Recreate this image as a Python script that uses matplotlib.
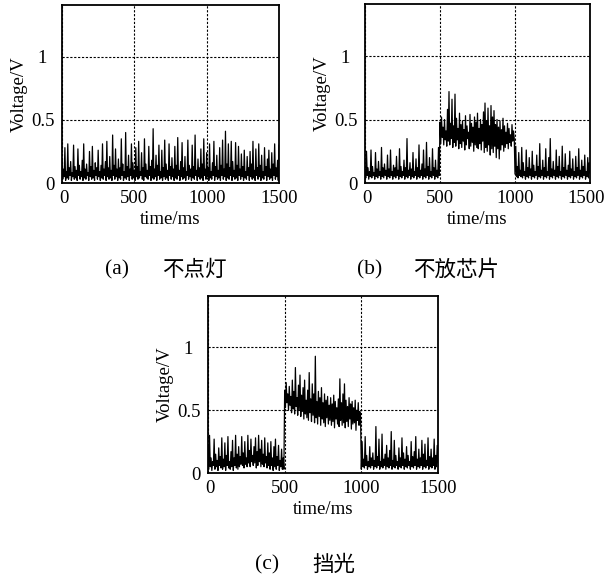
import numpy as np
import matplotlib
matplotlib.use("Agg")
import matplotlib.pyplot as plt
from matplotlib.transforms import ScaledTranslation

time_ms = np.arange(0, 1501, 5)

volt_a = [0.19,0.03,0.11,0.05,0.28,0.02,0.09,0.04,0.31,0.03,
          0.12,0.06,0.17,0.02,0.08,0.05,0.30,0.03,0.13,0.04,
          0.10,0.02,0.27,0.06,0.14,0.03,0.09,0.05,0.18,0.02,
          0.31,0.04,0.11,0.03,0.15,0.06,0.08,0.02,0.25,0.05,
          0.13,0.03,0.29,0.04,0.10,0.02,0.16,0.06,0.12,0.03,
          0.26,0.05,0.09,0.02,0.14,0.04,0.31,0.03,0.11,0.06,
          0.17,0.02,0.33,0.05,0.12,0.03,0.21,0.04,0.10,0.02,
          0.38,0.06,0.14,0.03,0.27,0.05,0.11,0.02,0.19,0.04,
          0.12,0.03,0.35,0.06,0.15,0.02,0.09,0.04,0.40,0.03,
          0.13,0.05,0.22,0.02,0.11,0.06,0.31,0.03,0.16,0.04,
          0.10,0.02,0.28,0.05,0.13,0.03,0.33,0.04,0.09,0.06,
          0.24,0.03,0.12,0.02,0.35,0.05,0.15,0.04,0.10,0.03,
          0.29,0.06,0.13,0.02,0.18,0.04,0.43,0.03,0.11,0.05,
          0.22,0.02,0.14,0.06,0.30,0.03,0.09,0.04,0.26,0.02,
          0.12,0.05,0.34,0.03,0.15,0.04,0.10,0.02,0.31,0.06,
          0.13,0.03,0.20,0.05,0.11,0.02,0.29,0.04,0.14,0.03,
          0.36,0.06,0.10,0.02,0.17,0.05,0.32,0.03,0.12,0.04,
          0.21,0.02,0.09,0.06,0.34,0.03,0.14,0.05,0.11,0.02,
          0.30,0.04,0.13,0.03,0.38,0.06,0.10,0.02,0.19,0.05,
          0.12,0.03,0.27,0.04,0.15,0.02,0.35,0.06,0.11,0.03,
          0.24,0.05,0.12,0.02,0.31,0.04,0.09,0.03,0.16,0.06,
          0.33,0.02,0.13,0.05,0.22,0.03,0.10,0.04,0.28,0.02,
          0.14,0.06,0.34,0.03,0.11,0.05,0.41,0.02,0.15,0.04,
          0.31,0.03,0.12,0.06,0.33,0.02,0.17,0.05,0.10,0.03,
          0.32,0.04,0.14,0.02,0.29,0.06,0.11,0.03,0.23,0.05,
          0.13,0.02,0.26,0.04,0.09,0.03,0.21,0.06,0.12,0.02,
          0.25,0.05,0.15,0.03,0.33,0.04,0.10,0.02,0.27,0.06,
          0.12,0.03,0.31,0.05,0.14,0.02,0.22,0.04,0.09,0.03,
          0.28,0.06,0.13,0.02,0.19,0.05,0.26,0.03,0.11,0.04,
          0.24,0.02,0.15,0.06,0.31,0.03,0.12,0.05,0.18,0.02,
          0.30]

volt_b = [0.10,0.04,0.25,0.06,0.12,0.03,0.09,0.05,0.26,0.04,
          0.13,0.06,0.08,0.03,0.24,0.05,0.11,0.04,0.17,0.06,
          0.09,0.03,0.28,0.05,0.12,0.04,0.15,0.06,0.10,0.03,
          0.22,0.05,0.11,0.04,0.26,0.06,0.09,0.03,0.14,0.05,
          0.12,0.04,0.21,0.06,0.10,0.03,0.27,0.05,0.13,0.04,
          0.09,0.06,0.18,0.03,0.12,0.05,0.35,0.04,0.10,0.06,
          0.16,0.03,0.11,0.05,0.24,0.04,0.09,0.06,0.19,0.03,
          0.12,0.05,0.30,0.04,0.10,0.06,0.15,0.03,0.26,0.05,
          0.11,0.04,0.32,0.06,0.13,0.03,0.20,0.05,0.09,0.04,
          0.27,0.06,0.12,0.03,0.18,0.05,0.10,0.04,0.28,0.06,
          0.48,0.31,0.52,0.36,0.44,0.30,0.50,0.34,0.41,0.29,
          0.58,0.33,0.72,0.30,0.47,0.35,0.66,0.28,0.45,0.32,
          0.70,0.29,0.51,0.34,0.43,0.27,0.55,0.31,0.46,0.28,
          0.49,0.33,0.42,0.26,0.53,0.30,0.45,0.35,0.40,0.27,
          0.54,0.29,0.47,0.32,0.44,0.25,0.52,0.30,0.48,0.28,
          0.55,0.27,0.43,0.31,0.50,0.26,0.46,0.33,0.56,0.24,
          0.63,0.28,0.49,0.25,0.59,0.30,0.45,0.22,0.61,0.27,
          0.52,0.24,0.57,0.29,0.46,0.20,0.50,0.27,0.44,0.19,
          0.49,0.26,0.42,0.30,0.51,0.25,0.45,0.28,0.40,0.31,
          0.47,0.27,0.43,0.32,0.38,0.29,0.46,0.33,0.41,0.35,
          0.07,0.29,0.05,0.13,0.04,0.24,0.06,0.10,0.05,0.28,
          0.04,0.16,0.06,0.09,0.03,0.26,0.05,0.12,0.04,0.20,
          0.06,0.11,0.03,0.25,0.05,0.14,0.04,0.09,0.06,0.22,
          0.03,0.13,0.05,0.31,0.04,0.10,0.06,0.18,0.03,0.12,
          0.05,0.27,0.04,0.09,0.06,0.20,0.03,0.35,0.05,0.11,
          0.04,0.17,0.06,0.10,0.03,0.26,0.05,0.13,0.04,0.21,
          0.06,0.09,0.03,0.29,0.05,0.12,0.04,0.23,0.06,0.10,
          0.03,0.14,0.05,0.25,0.04,0.11,0.06,0.19,0.03,0.09,
          0.05,0.21,0.04,0.12,0.06,0.27,0.03,0.10,0.05,0.18,
          0.04,0.13,0.06,0.22,0.03,0.09,0.05,0.20,0.04,0.16,
          0.08]

volt_c = [0.22,0.03,0.30,0.05,0.12,0.02,0.09,0.06,0.27,0.03,
          0.15,0.05,0.10,0.02,0.20,0.06,0.13,0.04,0.28,0.03,
          0.11,0.05,0.24,0.02,0.14,0.06,0.29,0.04,0.09,0.03,
          0.17,0.05,0.26,0.02,0.12,0.06,0.30,0.04,0.15,0.03,
          0.21,0.05,0.13,0.07,0.29,0.06,0.16,0.04,0.25,0.07,
          0.12,0.05,0.30,0.08,0.18,0.05,0.27,0.09,0.14,0.06,
          0.21,0.08,0.28,0.04,0.17,0.06,0.30,0.09,0.19,0.05,
          0.26,0.07,0.15,0.05,0.28,0.08,0.13,0.04,0.24,0.06,
          0.16,0.03,0.25,0.06,0.12,0.02,0.21,0.05,0.27,0.03,
          0.13,0.06,0.22,0.02,0.10,0.05,0.19,0.03,0.12,0.03,
          0.66,0.52,0.72,0.56,0.63,0.50,0.69,0.54,0.61,0.48,
          0.74,0.51,0.65,0.47,0.84,0.53,0.60,0.46,0.70,0.50,
          0.78,0.45,0.62,0.49,0.68,0.43,0.74,0.47,0.58,0.44,
          0.66,0.42,0.80,0.48,0.59,0.41,0.71,0.46,0.63,0.40,
          0.93,0.44,0.57,0.39,0.65,0.45,0.60,0.38,0.68,0.43,
          0.56,0.40,0.63,0.37,0.58,0.44,0.61,0.39,0.54,0.42,
          0.60,0.38,0.55,0.41,0.62,0.36,0.57,0.43,0.52,0.39,
          0.59,0.37,0.75,0.42,0.56,0.38,0.63,0.40,0.71,0.36,
          0.58,0.41,0.53,0.37,0.60,0.43,0.55,0.35,0.57,0.39,
          0.52,0.40,0.58,0.34,0.50,0.42,0.56,0.38,0.49,0.44,
          0.03,0.25,0.05,0.11,0.04,0.29,0.06,0.14,0.03,0.09,
          0.05,0.21,0.04,0.12,0.06,0.16,0.03,0.10,0.05,0.37,
          0.04,0.13,0.06,0.27,0.03,0.09,0.05,0.31,0.04,0.11,
          0.06,0.15,0.03,0.22,0.05,0.12,0.04,0.18,0.06,0.33,
          0.03,0.10,0.05,0.26,0.04,0.14,0.06,0.09,0.03,0.20,
          0.05,0.12,0.04,0.28,0.06,0.16,0.03,0.11,0.05,0.21,
          0.04,0.14,0.06,0.09,0.03,0.25,0.05,0.13,0.04,0.17,
          0.06,0.29,0.03,0.11,0.05,0.19,0.04,0.12,0.06,0.26,
          0.03,0.15,0.05,0.23,0.04,0.10,0.06,0.28,0.03,0.13,
          0.05,0.19,0.04,0.12,0.06,0.27,0.03,0.14,0.05,0.22,
          0.08]

x_ticks = [0, 500, 1000, 1500]
x_ticklabels = ["0", "500", "1000", "1500"]
y_ticks = [0, 0.5, 1]
y_ticklabels = ["0", "0.5", "1"]

captions = [("(a)", "不点灯"), ("(b)", "不放芯片"), ("(c)", "挡光")]

SERIF = "Liberation Serif"
CJK = ["Noto Sans CJK SC", "DejaVu Sans"]
FS = 13.5

fig = plt.figure(figsize=(6.04, 5.80), dpi=100)

W, H = 604.0, 580.0
def box(l, t, r, b):
    return [l / W, (H - b) / H, (r - l) / W, (b - t) / H]

boxes = [box(62, 5, 279, 183), box(365, 4, 590, 183), box(208, 296, 438, 473)]
series = [volt_a, volt_b, volt_c]

def nudge(label, dx_px, dy_px=0):
    label.set_transform(label.get_transform() +
                        ScaledTranslation(dx_px / 100, dy_px / 100, fig.dpi_scale_trans))

for i, (bx, vals) in enumerate(zip(boxes, series)):
    ax = fig.add_axes(bx)
    ax.plot(time_ms, vals, color="black", linewidth=0.9)
    ax.set_xlim(0, 1500)
    ax.set_ylim(0, 1.41)
    ax.set_xticks(x_ticks)
    ax.set_xticklabels(x_ticklabels, fontfamily=SERIF, fontsize=FS)
    ax.set_yticks(y_ticks)
    ax.set_yticklabels(y_ticklabels, fontfamily=SERIF, fontsize=FS)
    ax.tick_params(axis="x", length=0, pad=5)
    ax.tick_params(axis="y", length=0, pad=5)
    ax.grid(True, color="black", linestyle=(0, (2, 1.5)), linewidth=0.8)
    for s in ax.spines.values():
        s.set_linewidth(1.3)
    ax.set_xlabel("time/ms", fontfamily=SERIF, fontsize=FS, labelpad=3)
    ax.set_ylabel("Voltage/V", fontfamily=SERIF, fontsize=FS, labelpad=3)
    xl = ax.get_xticklabels()
    nudge(xl[0], 2)
    if i == 1:
        nudge(xl[-1], -4)
    yl = ax.get_yticklabels()
    nudge(yl[-1], -8)

cap_pos = [(105, 162, 270), (357, 413, 270), (255, 312, 565)]
for (lab, cn), (xl_, xc, yc) in zip(captions, cap_pos):
    fig.text(xl_ / W, 1 - yc / H, lab, fontfamily=SERIF, fontsize=15.5, va="center", ha="left")
    fig.text(xc / W, 1 - yc / H, cn, fontfamily=CJK, fontsize=15.5, va="center", ha="left")

fig.savefig("out.png", dpi=100)
